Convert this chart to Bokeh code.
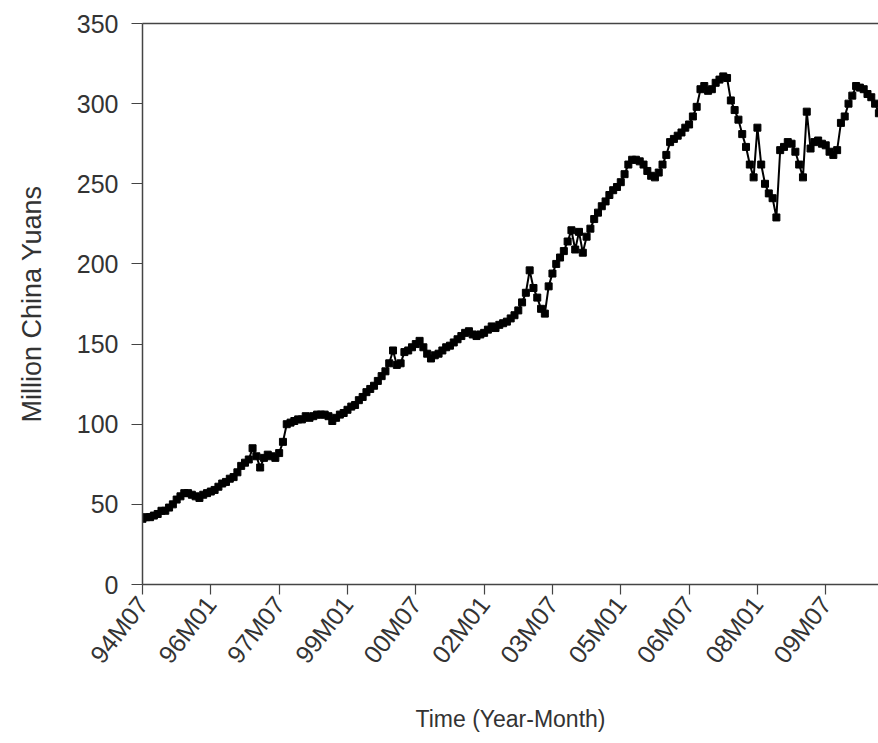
import math
from bokeh.plotting import figure
from bokeh.models import FixedTicker, LinearAxis, Range1d
from bokeh.embed import file_html
from bokeh.resources import INLINE

# Monthly values, Million China Yuans, starting 1994M07
values = [
    41, 42, 42, 43, 44, 46, 46, 48, 50, 53, 55, 57,          # 94M07-95M06
    57, 56, 55, 54, 56, 57, 58, 59, 61, 63, 64, 66,          # 95M07-96M06
    67, 70, 74, 76, 78, 85, 80, 73, 79, 81, 80, 79,          # 96M07-97M06
    82, 89, 100, 101, 102, 103, 103, 105, 104, 105, 106, 106,  # 97M07-98M06
    106, 105, 102, 104, 106, 107, 109, 111, 112, 115, 117, 120,  # 98M07-99M06
    122, 124, 127, 130, 133, 138, 146, 137, 138, 145, 146, 148,  # 99M07-00M06
    150, 152, 148, 144, 141, 143, 144, 146, 148, 149, 151, 153,  # 00M07-01M06
    155, 157, 158, 156, 155, 156, 157, 159, 161, 160, 162, 163,  # 01M07-02M06
    164, 166, 168, 171, 176, 182, 196, 185, 179, 172, 169, 186,  # 02M07-03M06
    194, 200, 204, 208, 214, 221, 209, 220, 207, 217, 222, 228,  # 03M07-04M06
    232, 236, 239, 243, 246, 248, 251, 256, 262, 265, 265, 264,  # 04M07-05M06
    262, 258, 255, 254, 257, 262, 268, 276, 278, 280, 282, 285,  # 05M07-06M06
    287, 292, 298, 309, 311, 308, 309, 313, 315, 317, 316, 302,  # 06M07-07M06
    296, 290, 281, 273, 262, 254, 285, 262, 250, 244, 241, 229,  # 07M07-08M06
    271, 273, 276, 275, 270, 262, 254, 295, 272, 276, 277, 275,  # 08M07-09M06
    274, 270, 268, 271, 288, 292, 300, 305, 311, 310, 309, 306,  # 09M07-10M06
    304, 300, 294,                                           # 10M07-10M09
]

x_tick_labels = ["94M07", "96M01", "97M07", "99M01", "00M07", "02M01",
                 "03M07", "05M01", "06M07", "08M01", "09M07"]
y_ticks = [0, 50, 100, 150, 200, 250, 300, 350]


def month_index(lbl):
    yy = int(lbl[:2])
    mm = int(lbl[3:])
    year = 1900 + yy if yy >= 50 else 2000 + yy
    return (year - 1994) * 12 + (mm - 7)


x = list(range(len(values)))
x_tick_pos = [month_index(l) for l in x_tick_labels]

FONT = "Liberation Sans"
TXT = "#333333"
AX = "#444444"

p = figure(width=878, height=740, output_backend="svg", toolbar_location=None,
           x_range=Range1d(0, 193.9), y_range=Range1d(0, 350),
           min_border_left=142, min_border_right=0, min_border_top=23,
           min_border_bottom=156)
p.outline_line_color = None
p.grid.visible = False
p.background_fill_color = "white"
p.border_fill_color = "white"

p.line(x, values, line_color="black", line_width=2)
p.scatter(x, values, marker="square", size=7, fill_color="black", line_color="black")

# x axis
xa = p.xaxis[0]
xa.ticker = FixedTicker(ticks=x_tick_pos)
xa.major_label_overrides = {pos: lbl for pos, lbl in zip(x_tick_pos, x_tick_labels)}
xa.major_label_orientation = math.radians(52)
xa.minor_tick_line_color = None
xa.major_tick_in = 0
xa.major_tick_out = 10
xa.major_label_standoff = 5
xa.axis_line_color = AX
xa.axis_line_width = 1.5
xa.major_tick_line_color = AX
xa.major_tick_line_width = 1.2
xa.major_label_text_font = FONT
xa.major_label_text_font_size = "25px"
xa.major_label_text_color = TXT
xa.axis_label = "Time (Year-Month)"
xa.axis_label_text_font = FONT
xa.axis_label_text_font_size = "23px"
xa.axis_label_text_font_style = "normal"
xa.axis_label_text_color = TXT
xa.axis_label_standoff = 26

# y axis
ya = p.yaxis[0]
ya.ticker = FixedTicker(ticks=y_ticks)
ya.minor_tick_line_color = None
ya.major_tick_in = 0
ya.major_tick_out = 11
ya.major_label_standoff = 13
ya.axis_line_color = AX
ya.axis_line_width = 1.5
ya.major_tick_line_color = AX
ya.major_tick_line_width = 1.2
ya.major_label_text_font = FONT
ya.major_label_text_font_size = "25px"
ya.major_label_text_color = TXT
ya.axis_label = "Million China Yuans"
ya.axis_label_text_font = FONT
ya.axis_label_text_font_size = "27px"
ya.axis_label_text_font_style = "normal"
ya.axis_label_text_color = TXT
ya.axis_label_standoff = 27

# top frame line
top = LinearAxis(ticker=FixedTicker(ticks=[]), major_label_text_font_size="0px",
                 major_tick_line_color=None, minor_tick_line_color=None,
                 axis_line_color=AX, axis_line_width=1.5,
                 major_label_standoff=0)
p.add_layout(top, "above")

open("out.html", "w").write(file_html(p, INLINE))
